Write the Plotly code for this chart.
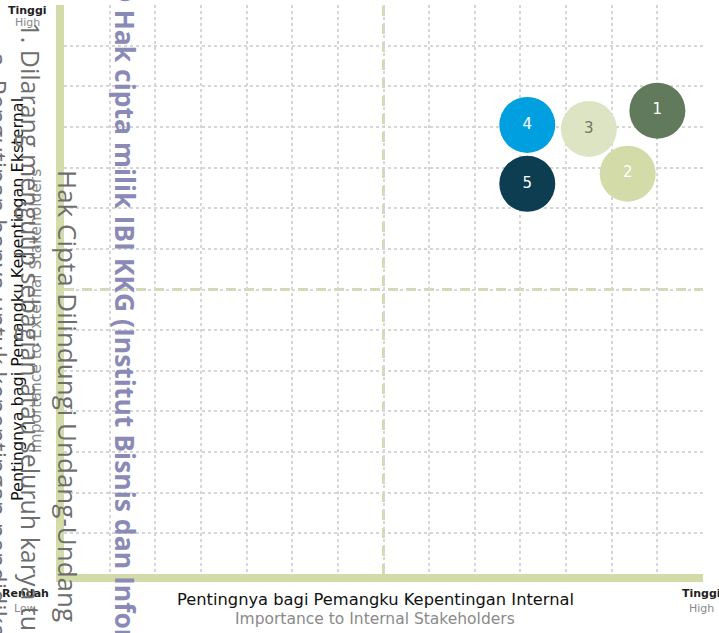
import plotly.graph_objects as go

# ---- data ----
issue_ids = ["1", "2", "3", "4", "5"]
internal_importance = [13.0, 12.35, 11.5, 10.15, 10.15]
external_importance = [11.4, 9.85, 10.95, 11.05, 9.6]
bubble_colors = ["#627a5c", "#d3dba8", "#dde4c4", "#009fe0", "#0c3d51"]
label_colors = ["#ffffff", "#ffffff", "#6b7a63", "#ffffff", "#ffffff"]

x_title_id = "Pentingnya bagi Pemangku Kepentingan Internal"
x_title_en = "Importance to Internal Stakeholders"
y_title_id = "Pentingnya bagi Pemangku Kepentingan Eksternal"
y_title_en = "Importance to External Stakeholders"

W, H = 719, 633
L, R, T, B = 64, 16, 5, 59
PW, PH = W - L - R, H - T - B


def px(x):
    return (x - L) / PW


def py(y):
    return 1 - (y - T) / PH


GREEN = "#d3dba9"
FONT = "DejaVu Sans, sans-serif"

fig = go.Figure()
fig.add_trace(go.Scatter(
    x=internal_importance, y=external_importance,
    mode="markers+text",
    text=issue_ids,
    textposition="middle center",
    textfont=dict(family=FONT, size=15, color=label_colors),
    marker=dict(size=56, color=bubble_colors, line=dict(width=0), opacity=1),
    hoverinfo="skip", showlegend=False, cliponaxis=False,
))

fig.add_shape(type="line", xref="x", yref="paper", x0=7, x1=7, y0=0, y1=1,
              line=dict(color=GREEN, width=3, dash="10px,8px"), layer="below")
fig.add_shape(type="line", xref="paper", yref="y", x0=0, x1=1, y0=7, y1=7,
              line=dict(color=GREEN, width=3, dash="10px,8px"), layer="below")

ann = []


def add(text, x, y, size, color, bold=False, xanchor="center", yanchor="middle", angle=0, family=FONT):
    if bold:
        text = "<b>" + text + "</b>"
    ann.append(dict(text=text, x=px(x), y=py(y), xref="paper", yref="paper",
                    xanchor=xanchor, yanchor=yanchor, textangle=angle, showarrow=False,
                    font=dict(family=family, size=size, color=color)))


add("Tinggi", 27, 10, 11, "#222222", bold=True)
add("High", 27, 23, 11, "#8a8a8a")
add("Rendah", 25, 593, 11, "#222222", bold=True)
add("Low", 25, 608, 11, "#8a8a8a")
add("Tinggi", 701, 593, 11, "#222222", bold=True)
add("High", 701, 608, 11, "#8a8a8a")
add(x_title_id, 375, 599, 16.3, "#111111")
add(x_title_en, 375, 619, 15.5, "#8a8a8a")
add(y_title_id, 17, 300, 16, "#111111", angle=-90)
add(y_title_en, 36, 311, 15.5, "#8a8a8a", angle=-90)

# watermark texts
WM = "Open Sans, DejaVu Sans, sans-serif"
add("© Hak cipta milik IBI KKG (Institut Bisnis dan Informatika Kwik Kian Gie)",
    125, -22, 26.5, "#8a8ab6", bold=True, yanchor="top", angle=90, family=WM)
add("Hak Cipta Dilindungi Undang-Undang", 68, 168, 26, "#6e6e6e",
    yanchor="top", angle=90, family=WM)
add("1. Dilarang mengutip sebagian atau seluruh karya tulis ini tanpa mencantumkan dan menyebutkan sumber:",
    31, 20, 25, "#6e6e6e", yanchor="top", angle=90, family=WM)
add("a. Pengutipan hanya untuk kepentingan pendidikan, penelitian, penulisan karya ilmiah, penyusunan laporan, penulisan kritik dan tinjauan suatu masalah.",
    -2, 50, 25, "#6e6e6e", yanchor="top", angle=90, family=WM)

axis_common = dict(range=[0, 14], dtick=1, tick0=0, showticklabels=False, ticks="",
                   showgrid=True, gridcolor="#d6d6d6", gridwidth=2, griddash="dot",
                   zeroline=False, showline=True, linecolor=GREEN, linewidth=8,
                   fixedrange=True)

fig.update_layout(
    width=W, height=H,
    margin=dict(l=L, r=R, t=T, b=B),
    paper_bgcolor="white", plot_bgcolor="white",
    xaxis=axis_common, yaxis=axis_common,
    annotations=ann,
    font=dict(family=FONT),
)

fig.write_html("out.html")
